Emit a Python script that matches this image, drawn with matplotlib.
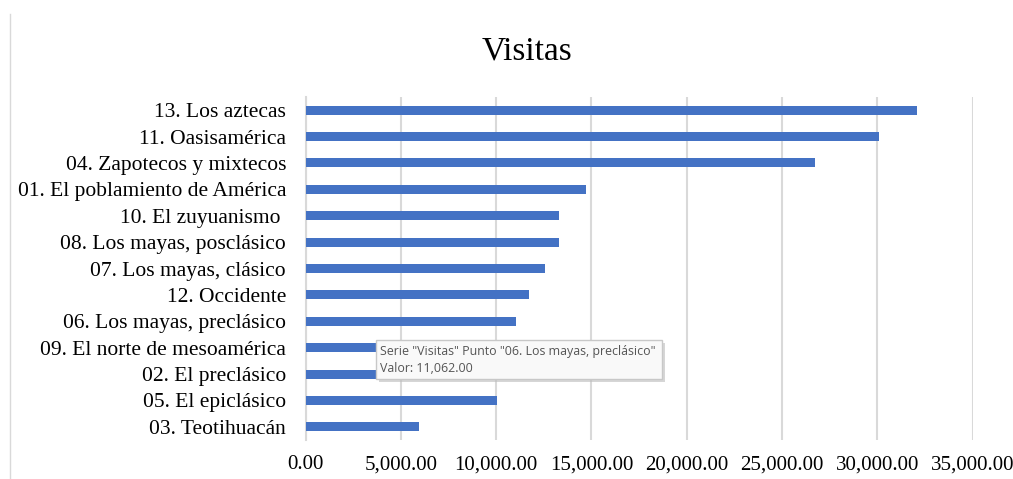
import matplotlib.pyplot as plt
from matplotlib.patches import Rectangle
from matplotlib.lines import Line2D
from matplotlib.ticker import FuncFormatter

# datos (de abajo hacia arriba)
salas = ["03. Teotihuacán", "05. El epiclásico", "02. El preclásico",
         "09. El norte de mesoamérica", "06. Los mayas, preclásico",
         "12. Occidente", "07. Los mayas, clásico", "08. Los mayas, posclásico",
         "10. El zuyuanismo ", "01. El poblamiento de América",
         "04. Zapotecos y mixtecos", "11. Oasisamérica", "13. Los aztecas"]
visitas = [5955, 10050, 10400, 10700, 11062, 11730, 12570, 13300,
           13300, 14730, 26730, 30070, 32070]
ticks = [0, 5000, 10000, 15000, 20000, 25000, 30000, 35000]

plt.rcParams['font.family'] = ['Liberation Serif', 'DejaVu Serif']

fig = plt.figure(figsize=(10.13, 4.79), dpi=100)
ax = fig.add_axes([0.3016, 0.0814, 0.6587, 0.7161])

ax.barh(range(len(salas)), visitas, height=0.34, color="#4472c4", zorder=3)
ax.set_xlim(0, 35000)
ax.set_ylim(-0.5, len(salas) - 0.5)
ax.set_yticks(range(len(salas)))
ax.set_yticklabels(salas, fontsize=15.5)
ax.set_xticks(ticks)
ax.xaxis.set_major_formatter(FuncFormatter(lambda v, p: f"{v:,.2f}"))
ax.tick_params(axis="x", labelsize=15, length=0, pad=11)
ax.tick_params(axis="y", length=0, pad=14)
ax.xaxis.grid(True, color="#d9d9d9", linewidth=1.5, zorder=0)
for s in ["top", "right", "bottom"]:
    ax.spines[s].set_visible(False)
ax.spines["left"].set_color("#d9d9d9")
ax.spines["left"].set_linewidth(1.5)

fig.text(527 / 1013, 1 - 51 / 479, "Visitas", fontsize=24, ha="center", va="center")

# borde izquierdo del gráfico
fig.add_artist(Line2D([10 / 1013, 10 / 1013], [0, 1 - 14 / 479],
                      color="#d9d9d9", linewidth=1, transform=fig.transFigure))

# tooltip
x0, y0, w, h = 376 / 1013, 1 - 379 / 479, 286 / 1013, 39 / 479
fig.add_artist(Rectangle((x0 + 3 / 1013, y0 - 3 / 479), w, h, transform=fig.transFigure,
                         facecolor="#bbbbbb", edgecolor="none", alpha=0.6, zorder=10))
fig.add_artist(Rectangle((x0, y0), w, h, transform=fig.transFigure,
                         facecolor="#f9f9f9", edgecolor="#c8c8c8", linewidth=1, zorder=11))
fig.text(x0 + 4 / 1013, y0 + h - 5 / 479,
         'Serie "Visitas" Punto "06. Los mayas, preclásico"\nValor: 11,062.00',
         fontsize=8.9, family=["Open Sans", "DejaVu Sans"], color="#555555",
         va="top", ha="left", linespacing=1.35, zorder=12)

fig.savefig("out.png", dpi=100)
